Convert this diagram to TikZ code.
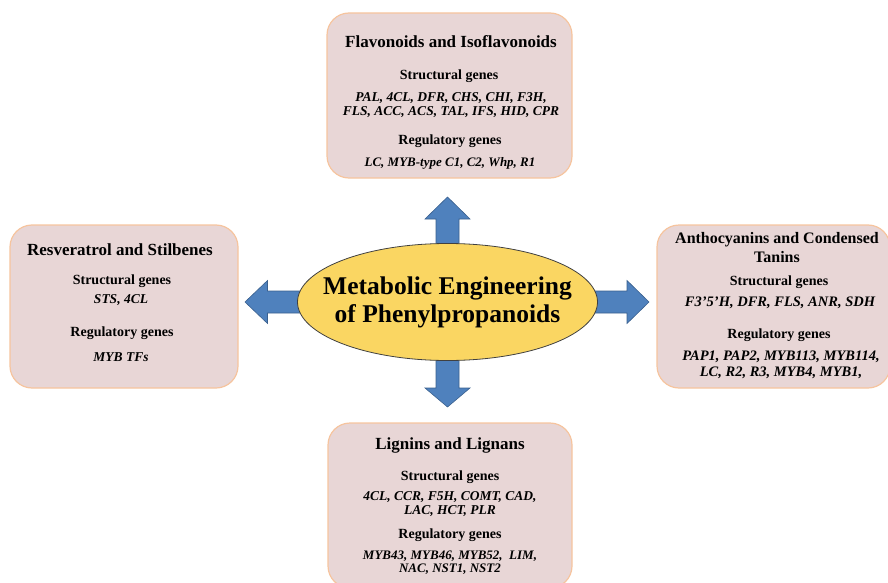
\documentclass[tikz,border=0pt]{standalone}
\usepackage{fontspec}
\setmainfont{Liberation Serif}
\usetikzlibrary{shapes.geometric}

\definecolor{boxfill}{RGB}{232,214,214}
\definecolor{boxline}{RGB}{246,196,158}
\definecolor{coreyellow}{RGB}{250,214,98}
\definecolor{arrowblue}{RGB}{79,129,189}
\definecolor{arrowedge}{RGB}{58,96,142}

\tikzset{
    pbox/.style={draw=boxline, fill=boxfill, line width=1.2pt, rounded corners=22pt, inner sep=0pt},
    ttl/.style={font=\fontsize{17}{19}\selectfont\bfseries, align=center, inner sep=0pt},
    sub/.style={font=\fontsize{14}{16}\selectfont\bfseries, inner sep=0pt},
    genes/.style={font=\fontsize{13.5}{14}\selectfont\bfseries\itshape, align=center, inner sep=0pt},
    blk/.style={fill=arrowblue, draw=arrowedge, line width=0.6pt}
}

\begin{document}
\begin{tikzpicture}[x=1pt, y=-1pt]
        \useasboundingbox (0,0) rectangle (888,583);

        % the four groups
        \node[pbox, minimum width=245, minimum height=165] (flav) at (449.5,95.5) {};
        \node[pbox, minimum width=228, minimum height=163] (resv) at (124,306.5) {};
        \node[pbox, minimum width=233, minimum height=163] (anth) at (773.5,306.5) {};
        \node[pbox, minimum width=244, minimum height=165] (lign) at (450,505.5) {};

        \node[ttl] (flavT) at (451,42) {Flavonoids and Isoflavonoids};
        \node[sub] (flavS) at (449,76) {Structural genes};
        \node[genes] (flavSG) at (451,105.5) {PAL, 4CL, DFR, CHS, CHI, F3H,\\FLS, ACC, ACS, TAL, IFS, HID, CPR};
        \node[sub] (flavR) at (450,141) {Regulatory genes};
        \node[genes, font=\fontsize{13}{14}\selectfont\bfseries\itshape] (flavRG) at (450,163) {LC, MYB-type C1, C2, Whp, R1};

        \node[ttl] (resvT) at (120,250) {Resveratrol and Stilbenes};
        \node[sub] (resvS) at (122,281) {Structural genes};
        \node[genes] (resvSG) at (121,300) {STS, 4CL};
        \node[sub] (resvR) at (122,333) {Regulatory genes};
        \node[genes] (resvRG) at (121,357) {MYB TFs};

        \node[ttl, font=\fontsize{16}{19}\selectfont\bfseries] (anthT) at (777,247.5) {Anthocyanins and Condensed\\Tanins};
        \node[sub] (anthS) at (779,282) {Structural genes};
        \node[genes, font=\fontsize{14.5}{15}\selectfont\bfseries\itshape] (anthSG) at (780,303) {F3'5'H, DFR, FLS, ANR, SDH};
        \node[sub] (anthR) at (779,335) {Regulatory genes};
        \node[genes, font=\fontsize{14.5}{15.5}\selectfont\bfseries\itshape] (anthRG) at (781,365) {PAP1, PAP2, MYB113, MYB114,\\LC, R2, R3, MYB4, MYB1,};

        \node[ttl] (lignT) at (450,445) {Lignins and Lignans};
        \node[sub] (lignS) at (450,477) {Structural genes};
        \node[genes] (lignSG) at (450,504) {4CL, CCR, F5H, COMT, CAD,\\LAC, HCT, PLR};
        \node[sub] (lignR) at (450,535) {Regulatory genes};
        \node[genes, font=\fontsize{13}{13.5}\selectfont\bfseries\itshape] (lignRG) at (450,562.5) {MYB43, MYB46, MYB52,~ LIM,\\NAC, NST1, NST2};

        % block arrows
        \coordinate (c) at (447.5,302);
        \draw[blk, shift={(c)}] (-11.5,0) -- (-11.5,-83) -- (-22.5,-83) -- (0,-105) -- (22.5,-83) -- (11.5,-83) -- (11.5,0) -- cycle;
        \draw[blk, shift={(c)}] (-11.5,0) -- (-11.5,86) -- (-22.5,86) -- (0,105) -- (22.5,86) -- (11.5,86) -- (11.5,0) -- cycle;
        \draw[blk, shift={(c)}] (0,-11) -- (-180,-11) -- (-180,-21.5) -- (-202.5,0) -- (-180,21.5) -- (-180,11) -- (0,11) -- cycle;
        \draw[blk, shift={(c)}] (0,-11) -- (179.5,-11) -- (179.5,-21.5) -- (201.5,0) -- (179.5,21.5) -- (179.5,11) -- (0,11) -- cycle;

        \node[ellipse, draw=black!75, line width=0.8pt, fill=coreyellow, minimum width=300, minimum height=117, inner sep=0pt] (core) at (c) {};
        \node[align=center, inner sep=0pt, font=\fontsize{25.5}{28}\selectfont\bfseries] (coreT) at (core) {Metabolic Engineering\\of Phenylpropanoids};
    \end{tikzpicture}
\end{document}
